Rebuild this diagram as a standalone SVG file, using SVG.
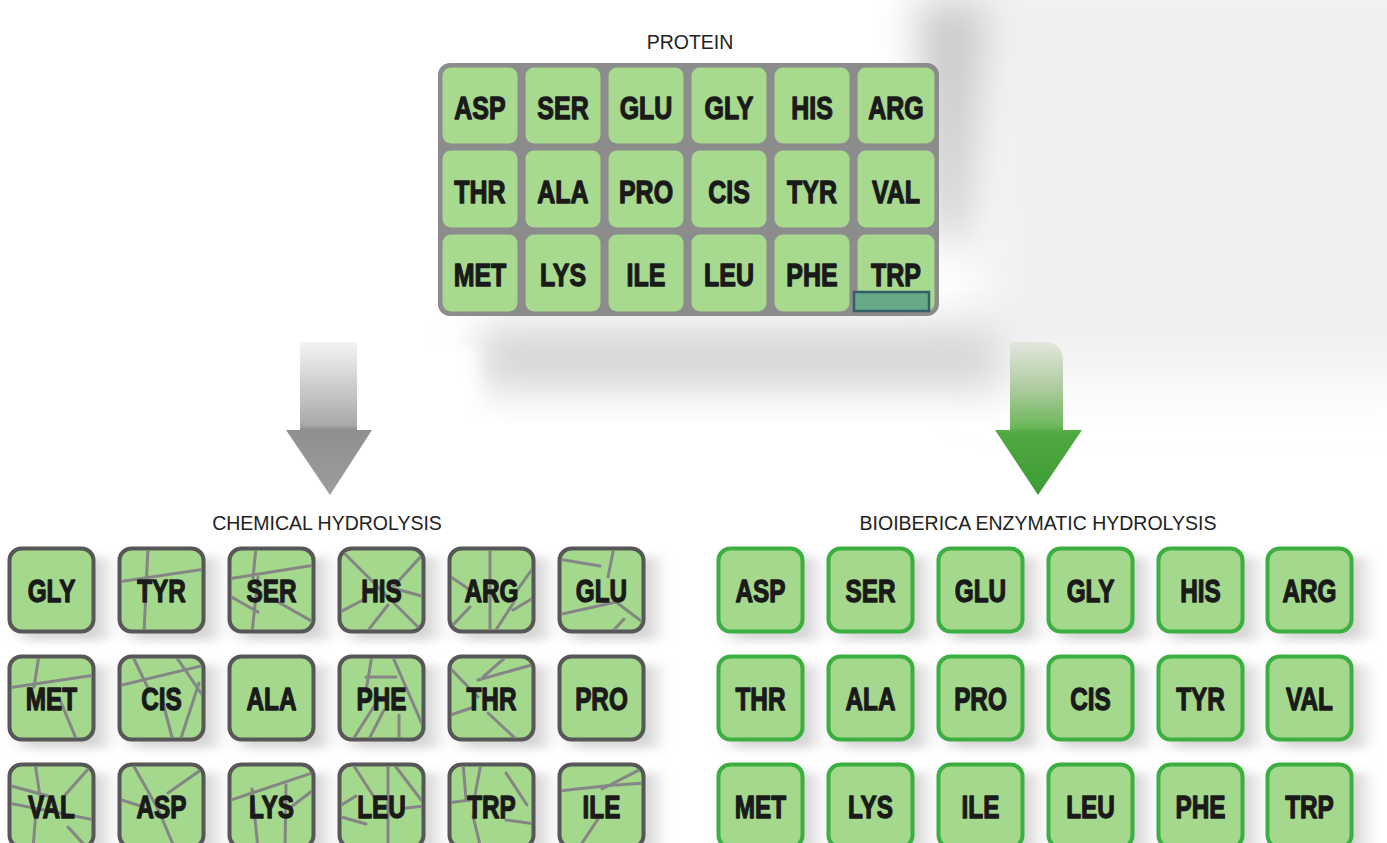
<svg xmlns="http://www.w3.org/2000/svg" width="1387" height="843" viewBox="0 0 1387 843">
<defs>
<style>
.lbl{font-family:"Liberation Sans",Arial,sans-serif;font-size:19.5px;fill:#222;text-anchor:middle}
.aa{font-family:"Liberation Sans",Arial,sans-serif;font-weight:bold;font-size:32px;fill:#1a1a1a;stroke:#1a1a1a;stroke-width:1.3;stroke-linejoin:round;text-anchor:middle}
.pt{fill:#a7d98f;stroke:#8c8c8c;stroke-width:3}
.ct{fill:#a4d88c;stroke:#575757;stroke-width:4}
.et{fill:#a4d88c;stroke:#3bb041;stroke-width:4}
.ck{stroke:#858585;stroke-width:3;fill:none;stroke-linecap:round}
.sh{fill:#a8a8a8;opacity:0.5}
</style>
<filter id="b6" x="-50%" y="-50%" width="200%" height="200%"><feGaussianBlur stdDeviation="9 5"/></filter>
<filter id="b15" x="-50%" y="-50%" width="200%" height="200%"><feGaussianBlur stdDeviation="20"/></filter>
<filter id="b25" x="-50%" y="-50%" width="200%" height="200%"><feGaussianBlur stdDeviation="30"/></filter>
<clipPath id="tc"><rect x="3" y="3" width="81" height="80" rx="10"/></clipPath>
<linearGradient id="ga" gradientUnits="userSpaceOnUse" x1="0" y1="340" x2="0" y2="495">
<stop offset="0" stop-color="#f6f6f6"/><stop offset="0.55" stop-color="#a9a9a9"/><stop offset="0.58" stop-color="#8f8f8f"/><stop offset="1" stop-color="#9d9d9d"/>
</linearGradient>
<linearGradient id="gg" gradientUnits="userSpaceOnUse" x1="0" y1="340" x2="0" y2="495">
<stop offset="0" stop-color="#e4e8e0"/><stop offset="0.3" stop-color="#b0cca2"/><stop offset="0.56" stop-color="#6cb75a"/><stop offset="0.6" stop-color="#4fa940"/><stop offset="1" stop-color="#3e9b33"/>
</linearGradient>
</defs>
<rect width="1387" height="843" fill="#ffffff"/>
<g id="background">
<rect x="980" y="-40" width="460" height="420" fill="#f0f0f0" filter="url(#b25)"/>
<polygon points="915,0 990,0 965,240 935,240" fill="#cacaca" filter="url(#b15)"/>
<rect x="480" y="325" width="520" height="65" fill="#d6d6d6" filter="url(#b15)"/>
<rect x="365" y="345" width="110" height="90" rx="16" fill="#ffffff" filter="url(#b6)"/>
</g>
<g id="shadows">
<rect class="sh" x="22" y="557" width="84" height="83" filter="url(#b6)"/><rect class="sh" x="132" y="557" width="84" height="83" filter="url(#b6)"/><rect class="sh" x="242" y="557" width="84" height="83" filter="url(#b6)"/><rect class="sh" x="352" y="557" width="84" height="83" filter="url(#b6)"/><rect class="sh" x="462" y="557" width="84" height="83" filter="url(#b6)"/><rect class="sh" x="572" y="557" width="84" height="83" filter="url(#b6)"/>
<rect class="sh" x="22" y="665" width="84" height="83" filter="url(#b6)"/><rect class="sh" x="132" y="665" width="84" height="83" filter="url(#b6)"/><rect class="sh" x="242" y="665" width="84" height="83" filter="url(#b6)"/><rect class="sh" x="352" y="665" width="84" height="83" filter="url(#b6)"/><rect class="sh" x="462" y="665" width="84" height="83" filter="url(#b6)"/><rect class="sh" x="572" y="665" width="84" height="83" filter="url(#b6)"/>
<rect class="sh" x="22" y="773" width="84" height="83" filter="url(#b6)"/><rect class="sh" x="132" y="773" width="84" height="83" filter="url(#b6)"/><rect class="sh" x="242" y="773" width="84" height="83" filter="url(#b6)"/><rect class="sh" x="352" y="773" width="84" height="83" filter="url(#b6)"/><rect class="sh" x="462" y="773" width="84" height="83" filter="url(#b6)"/><rect class="sh" x="572" y="773" width="84" height="83" filter="url(#b6)"/>
<rect class="sh" x="731" y="557" width="84" height="83" filter="url(#b6)"/><rect class="sh" x="841" y="557" width="84" height="83" filter="url(#b6)"/><rect class="sh" x="951" y="557" width="84" height="83" filter="url(#b6)"/><rect class="sh" x="1061" y="557" width="84" height="83" filter="url(#b6)"/><rect class="sh" x="1171" y="557" width="84" height="83" filter="url(#b6)"/><rect class="sh" x="1280" y="557" width="84" height="83" filter="url(#b6)"/>
<rect class="sh" x="731" y="665" width="84" height="83" filter="url(#b6)"/><rect class="sh" x="841" y="665" width="84" height="83" filter="url(#b6)"/><rect class="sh" x="951" y="665" width="84" height="83" filter="url(#b6)"/><rect class="sh" x="1061" y="665" width="84" height="83" filter="url(#b6)"/><rect class="sh" x="1171" y="665" width="84" height="83" filter="url(#b6)"/><rect class="sh" x="1280" y="665" width="84" height="83" filter="url(#b6)"/>
<rect class="sh" x="731" y="773" width="84" height="83" filter="url(#b6)"/><rect class="sh" x="841" y="773" width="84" height="83" filter="url(#b6)"/><rect class="sh" x="951" y="773" width="84" height="83" filter="url(#b6)"/><rect class="sh" x="1061" y="773" width="84" height="83" filter="url(#b6)"/><rect class="sh" x="1171" y="773" width="84" height="83" filter="url(#b6)"/><rect class="sh" x="1280" y="773" width="84" height="83" filter="url(#b6)"/>
</g>

<text class="lbl" x="690" y="49">PROTEIN</text>
<g id="protein">
<rect x="438" y="63" width="501" height="253" rx="12" fill="#8c8c8c"/>
<g id="p-asp"><rect class="pt" x="441" y="66" width="78" height="79" rx="10"/><text class="aa" transform="translate(480 119) scale(0.78 1)">ASP</text></g>
<g id="p-ser"><rect class="pt" x="524" y="66" width="78" height="79" rx="10"/><text class="aa" transform="translate(563 119) scale(0.78 1)">SER</text></g>
<g id="p-glu"><rect class="pt" x="607" y="66" width="78" height="79" rx="10"/><text class="aa" transform="translate(646 119) scale(0.78 1)">GLU</text></g>
<g id="p-gly"><rect class="pt" x="690" y="66" width="78" height="79" rx="10"/><text class="aa" transform="translate(729 119) scale(0.78 1)">GLY</text></g>
<g id="p-his"><rect class="pt" x="773" y="66" width="78" height="79" rx="10"/><text class="aa" transform="translate(812 119) scale(0.78 1)">HIS</text></g>
<g id="p-arg"><rect class="pt" x="856" y="66" width="80" height="79" rx="10"/><text class="aa" transform="translate(896 119) scale(0.78 1)">ARG</text></g>
<g id="p-thr"><rect class="pt" x="441" y="149" width="78" height="80" rx="10"/><text class="aa" transform="translate(480 203) scale(0.78 1)">THR</text></g>
<g id="p-ala"><rect class="pt" x="524" y="149" width="78" height="80" rx="10"/><text class="aa" transform="translate(563 203) scale(0.78 1)">ALA</text></g>
<g id="p-pro"><rect class="pt" x="607" y="149" width="78" height="80" rx="10"/><text class="aa" transform="translate(646 203) scale(0.78 1)">PRO</text></g>
<g id="p-cis"><rect class="pt" x="690" y="149" width="78" height="80" rx="10"/><text class="aa" transform="translate(729 203) scale(0.78 1)">CIS</text></g>
<g id="p-tyr"><rect class="pt" x="773" y="149" width="78" height="80" rx="10"/><text class="aa" transform="translate(812 203) scale(0.78 1)">TYR</text></g>
<g id="p-val"><rect class="pt" x="856" y="149" width="80" height="80" rx="10"/><text class="aa" transform="translate(896 203) scale(0.78 1)">VAL</text></g>
<g id="p-met"><rect class="pt" x="441" y="233" width="78" height="80" rx="10"/><text class="aa" transform="translate(480 286) scale(0.78 1)">MET</text></g>
<g id="p-lys"><rect class="pt" x="524" y="233" width="78" height="80" rx="10"/><text class="aa" transform="translate(563 286) scale(0.78 1)">LYS</text></g>
<g id="p-ile"><rect class="pt" x="607" y="233" width="78" height="80" rx="10"/><text class="aa" transform="translate(646 286) scale(0.78 1)">ILE</text></g>
<g id="p-leu"><rect class="pt" x="690" y="233" width="78" height="80" rx="10"/><text class="aa" transform="translate(729 286) scale(0.78 1)">LEU</text></g>
<g id="p-phe"><rect class="pt" x="773" y="233" width="78" height="80" rx="10"/><text class="aa" transform="translate(812 286) scale(0.78 1)">PHE</text></g>
<g id="p-trp"><rect class="pt" x="856" y="233" width="80" height="80" rx="10"/><text class="aa" transform="translate(896 286) scale(0.78 1)">TRP</text>
<rect x="854" y="292" width="75" height="19" fill="#67a986" stroke="#345f6a" stroke-width="2.5"/></g>
</g>

<g id="connectors">
<path d="M300,342 L357,342 L357,430 L372,430 L330,495 L286,430 L300,430 Z" fill="url(#ga)"/>
<path d="M1010,342 L1043,342 Q1063,342 1063,362 L1063,430 L1082,430 L1038,495 L995,430 L1010,430 Z" fill="url(#gg)"/>
</g>

<text class="lbl" x="327" y="530">CHEMICAL HYDROLYSIS</text>
<text class="lbl" x="1038" y="530">BIOIBERICA ENZYMATIC HYDROLYSIS</text>

<g id="chemical">
<g id="c-gly" transform="translate(8 547)"><rect class="ct" x="1.5" y="1.5" width="84" height="83" rx="12"/><text class="aa" transform="translate(43.5 55) scale(0.76 1)">GLY</text></g>
<g id="c-tyr" transform="translate(118 547)"><rect class="ct" x="1.5" y="1.5" width="84" height="83" rx="12"/><g clip-path="url(#tc)" class="ck"><line x1="30" y1="0" x2="26" y2="86"/><line x1="0" y1="35" x2="87" y2="22"/></g><text class="aa" transform="translate(43.5 55) scale(0.76 1)">TYR</text></g>
<g id="c-ser" transform="translate(228 547)"><rect class="ct" x="1.5" y="1.5" width="84" height="83" rx="12"/><g clip-path="url(#tc)" class="ck"><line x1="28" y1="0" x2="25" y2="31"/><line x1="0" y1="32" x2="87" y2="18"/><line x1="0" y1="48" x2="30" y2="65"/><line x1="30" y1="30" x2="24" y2="86"/><line x1="50" y1="55" x2="87" y2="76"/></g><text class="aa" transform="translate(43.5 55) scale(0.76 1)">SER</text></g>
<g id="c-his" transform="translate(338 547)"><rect class="ct" x="1.5" y="1.5" width="84" height="83" rx="12"/><g clip-path="url(#tc)" class="ck"><line x1="3" y1="3" x2="86" y2="86"/><line x1="86" y1="6" x2="55" y2="40"/><line x1="58" y1="42" x2="87" y2="50"/><line x1="50" y1="58" x2="28" y2="86"/><line x1="0" y1="66" x2="27" y2="52"/></g><text class="aa" transform="translate(43.5 55) scale(0.76 1)">HIS</text></g>
<g id="c-arg" transform="translate(448 547)"><rect class="ct" x="1.5" y="1.5" width="84" height="83" rx="12"/><g clip-path="url(#tc)" class="ck"><line x1="42" y1="0" x2="42" y2="86"/><line x1="0" y1="28" x2="22" y2="43"/><line x1="87" y1="18" x2="68" y2="45"/><line x1="66" y1="55" x2="46" y2="86"/><line x1="87" y1="50" x2="65" y2="63"/><line x1="3" y1="80" x2="22" y2="60"/></g><text class="aa" transform="translate(43.5 55) scale(0.76 1)">ARG</text></g>
<g id="c-glu" transform="translate(558 547)"><rect class="ct" x="1.5" y="1.5" width="84" height="83" rx="12"/><g clip-path="url(#tc)" class="ck"><line x1="0" y1="12" x2="42" y2="19"/><line x1="56" y1="0" x2="50" y2="30"/><line x1="0" y1="68" x2="58" y2="55"/><line x1="58" y1="55" x2="87" y2="77"/><line x1="53" y1="86" x2="66" y2="72"/></g><text class="aa" transform="translate(43.5 55) scale(0.76 1)">GLU</text></g>

<g id="c-met" transform="translate(8 655)"><rect class="ct" x="1.5" y="1.5" width="84" height="83" rx="12"/><g clip-path="url(#tc)" class="ck"><line x1="31" y1="0" x2="26" y2="32"/><line x1="0" y1="33" x2="87" y2="20"/><line x1="52" y1="45" x2="69" y2="86"/></g><text class="aa" transform="translate(43.5 55) scale(0.76 1)">MET</text></g>
<g id="c-cis" transform="translate(118 655)"><rect class="ct" x="1.5" y="1.5" width="84" height="83" rx="12"/><g clip-path="url(#tc)" class="ck"><line x1="14" y1="0" x2="30" y2="33"/><line x1="0" y1="31" x2="87" y2="10"/><line x1="57" y1="0" x2="87" y2="44"/><line x1="44" y1="44" x2="55" y2="86"/><line x1="62" y1="86" x2="81" y2="28"/></g><text class="aa" transform="translate(43.5 55) scale(0.76 1)">CIS</text></g>
<g id="c-ala" transform="translate(228 655)"><rect class="ct" x="1.5" y="1.5" width="84" height="83" rx="12"/><text class="aa" transform="translate(43.5 55) scale(0.76 1)">ALA</text></g>
<g id="c-phe" transform="translate(338 655)"><rect class="ct" x="1.5" y="1.5" width="84" height="83" rx="12"/><g clip-path="url(#tc)" class="ck"><line x1="34" y1="0" x2="28" y2="36"/><line x1="28" y1="22" x2="58" y2="22"/><line x1="54" y1="0" x2="87" y2="76"/><line x1="14" y1="86" x2="40" y2="45"/><line x1="30" y1="86" x2="46" y2="55"/><line x1="61" y1="60" x2="61" y2="86"/></g><text class="aa" transform="translate(43.5 55) scale(0.76 1)">PHE</text></g>
<g id="c-thr" transform="translate(448 655)"><rect class="ct" x="1.5" y="1.5" width="84" height="83" rx="12"/><g clip-path="url(#tc)" class="ck"><line x1="0" y1="11" x2="30" y2="42"/><line x1="30" y1="25" x2="87" y2="9"/><line x1="60" y1="0" x2="35" y2="22"/><line x1="0" y1="61" x2="26" y2="52"/><line x1="40" y1="58" x2="70" y2="86"/></g><text class="aa" transform="translate(43.5 55) scale(0.76 1)">THR</text></g>
<g id="c-pro" transform="translate(558 655)"><rect class="ct" x="1.5" y="1.5" width="84" height="83" rx="12"/><text class="aa" transform="translate(43.5 55) scale(0.76 1)">PRO</text></g>

<g id="c-val" transform="translate(8 763)"><rect class="ct" x="1.5" y="1.5" width="84" height="83" rx="12"/><g clip-path="url(#tc)" class="ck"><line x1="27" y1="0" x2="33" y2="40"/><line x1="0" y1="22" x2="40" y2="33"/><line x1="82" y1="4" x2="57" y2="32"/><line x1="0" y1="40" x2="87" y2="57"/><line x1="28" y1="48" x2="25" y2="86"/><line x1="60" y1="64" x2="80" y2="86"/></g><text class="aa" transform="translate(43.5 55) scale(0.76 1)">VAL</text></g>
<g id="c-asp" transform="translate(118 763)"><rect class="ct" x="1.5" y="1.5" width="84" height="83" rx="12"/><g clip-path="url(#tc)" class="ck"><line x1="14" y1="0" x2="40" y2="46"/><line x1="87" y1="4" x2="50" y2="30"/><line x1="0" y1="36" x2="26" y2="44"/><line x1="40" y1="46" x2="57" y2="86"/></g><text class="aa" transform="translate(43.5 55) scale(0.76 1)">ASP</text></g>
<g id="c-lys" transform="translate(228 763)"><rect class="ct" x="1.5" y="1.5" width="84" height="83" rx="12"/><g clip-path="url(#tc)" class="ck"><line x1="0" y1="38" x2="87" y2="9"/><line x1="58" y1="22" x2="57" y2="86"/><line x1="84" y1="28" x2="63" y2="44"/><line x1="24" y1="26" x2="30" y2="86"/></g><text class="aa" transform="translate(43.5 55) scale(0.76 1)">LYS</text></g>
<g id="c-leu" transform="translate(338 763)"><rect class="ct" x="1.5" y="1.5" width="84" height="83" rx="12"/><g clip-path="url(#tc)" class="ck"><line x1="14" y1="0" x2="36" y2="34"/><line x1="50" y1="0" x2="50" y2="86"/><line x1="58" y1="4" x2="84" y2="38"/><line x1="0" y1="44" x2="18" y2="33"/><line x1="0" y1="53" x2="28" y2="61"/><line x1="68" y1="45" x2="87" y2="43"/></g><text class="aa" transform="translate(43.5 55) scale(0.76 1)">LEU</text></g>
<g id="c-trp" transform="translate(448 763)"><rect class="ct" x="1.5" y="1.5" width="84" height="83" rx="12"/><g clip-path="url(#tc)" class="ck"><line x1="15" y1="0" x2="18" y2="36"/><line x1="33" y1="0" x2="27" y2="32"/><line x1="0" y1="40" x2="22" y2="37"/><line x1="58" y1="10" x2="79" y2="42"/><line x1="58" y1="57" x2="87" y2="61"/><line x1="25" y1="53" x2="33" y2="86"/></g><text class="aa" transform="translate(43.5 55) scale(0.76 1)">TRP</text></g>
<g id="c-ile" transform="translate(558 763)"><rect class="ct" x="1.5" y="1.5" width="84" height="83" rx="12"/><g clip-path="url(#tc)" class="ck"><line x1="0" y1="28" x2="56" y2="22"/><line x1="44" y1="26" x2="87" y2="4"/><line x1="58" y1="22" x2="87" y2="20"/><line x1="24" y1="80" x2="40" y2="56"/></g><text class="aa" transform="translate(43.5 55) scale(0.76 1)">ILE</text></g>
</g>

<g id="enzymatic">
<g id="e-asp" transform="translate(717 547)"><rect class="et" x="1.5" y="1.5" width="84" height="83" rx="12"/><text class="aa" transform="translate(43.5 55) scale(0.76 1)">ASP</text></g>
<g id="e-ser" transform="translate(827 547)"><rect class="et" x="1.5" y="1.5" width="84" height="83" rx="12"/><text class="aa" transform="translate(43.5 55) scale(0.76 1)">SER</text></g>
<g id="e-glu" transform="translate(937 547)"><rect class="et" x="1.5" y="1.5" width="84" height="83" rx="12"/><text class="aa" transform="translate(43.5 55) scale(0.76 1)">GLU</text></g>
<g id="e-gly" transform="translate(1047 547)"><rect class="et" x="1.5" y="1.5" width="84" height="83" rx="12"/><text class="aa" transform="translate(43.5 55) scale(0.76 1)">GLY</text></g>
<g id="e-his" transform="translate(1157 547)"><rect class="et" x="1.5" y="1.5" width="84" height="83" rx="12"/><text class="aa" transform="translate(43.5 55) scale(0.76 1)">HIS</text></g>
<g id="e-arg" transform="translate(1266 547)"><rect class="et" x="1.5" y="1.5" width="84" height="83" rx="12"/><text class="aa" transform="translate(43.5 55) scale(0.76 1)">ARG</text></g>
<g id="e-thr" transform="translate(717 655)"><rect class="et" x="1.5" y="1.5" width="84" height="83" rx="12"/><text class="aa" transform="translate(43.5 55) scale(0.76 1)">THR</text></g>
<g id="e-ala" transform="translate(827 655)"><rect class="et" x="1.5" y="1.5" width="84" height="83" rx="12"/><text class="aa" transform="translate(43.5 55) scale(0.76 1)">ALA</text></g>
<g id="e-pro" transform="translate(937 655)"><rect class="et" x="1.5" y="1.5" width="84" height="83" rx="12"/><text class="aa" transform="translate(43.5 55) scale(0.76 1)">PRO</text></g>
<g id="e-cis" transform="translate(1047 655)"><rect class="et" x="1.5" y="1.5" width="84" height="83" rx="12"/><text class="aa" transform="translate(43.5 55) scale(0.76 1)">CIS</text></g>
<g id="e-tyr" transform="translate(1157 655)"><rect class="et" x="1.5" y="1.5" width="84" height="83" rx="12"/><text class="aa" transform="translate(43.5 55) scale(0.76 1)">TYR</text></g>
<g id="e-val" transform="translate(1266 655)"><rect class="et" x="1.5" y="1.5" width="84" height="83" rx="12"/><text class="aa" transform="translate(43.5 55) scale(0.76 1)">VAL</text></g>
<g id="e-met" transform="translate(717 763)"><rect class="et" x="1.5" y="1.5" width="84" height="83" rx="12"/><text class="aa" transform="translate(43.5 55) scale(0.76 1)">MET</text></g>
<g id="e-lys" transform="translate(827 763)"><rect class="et" x="1.5" y="1.5" width="84" height="83" rx="12"/><text class="aa" transform="translate(43.5 55) scale(0.76 1)">LYS</text></g>
<g id="e-ile" transform="translate(937 763)"><rect class="et" x="1.5" y="1.5" width="84" height="83" rx="12"/><text class="aa" transform="translate(43.5 55) scale(0.76 1)">ILE</text></g>
<g id="e-leu" transform="translate(1047 763)"><rect class="et" x="1.5" y="1.5" width="84" height="83" rx="12"/><text class="aa" transform="translate(43.5 55) scale(0.76 1)">LEU</text></g>
<g id="e-phe" transform="translate(1157 763)"><rect class="et" x="1.5" y="1.5" width="84" height="83" rx="12"/><text class="aa" transform="translate(43.5 55) scale(0.76 1)">PHE</text></g>
<g id="e-trp" transform="translate(1266 763)"><rect class="et" x="1.5" y="1.5" width="84" height="83" rx="12"/><text class="aa" transform="translate(43.5 55) scale(0.76 1)">TRP</text></g>
</g>
</svg>
